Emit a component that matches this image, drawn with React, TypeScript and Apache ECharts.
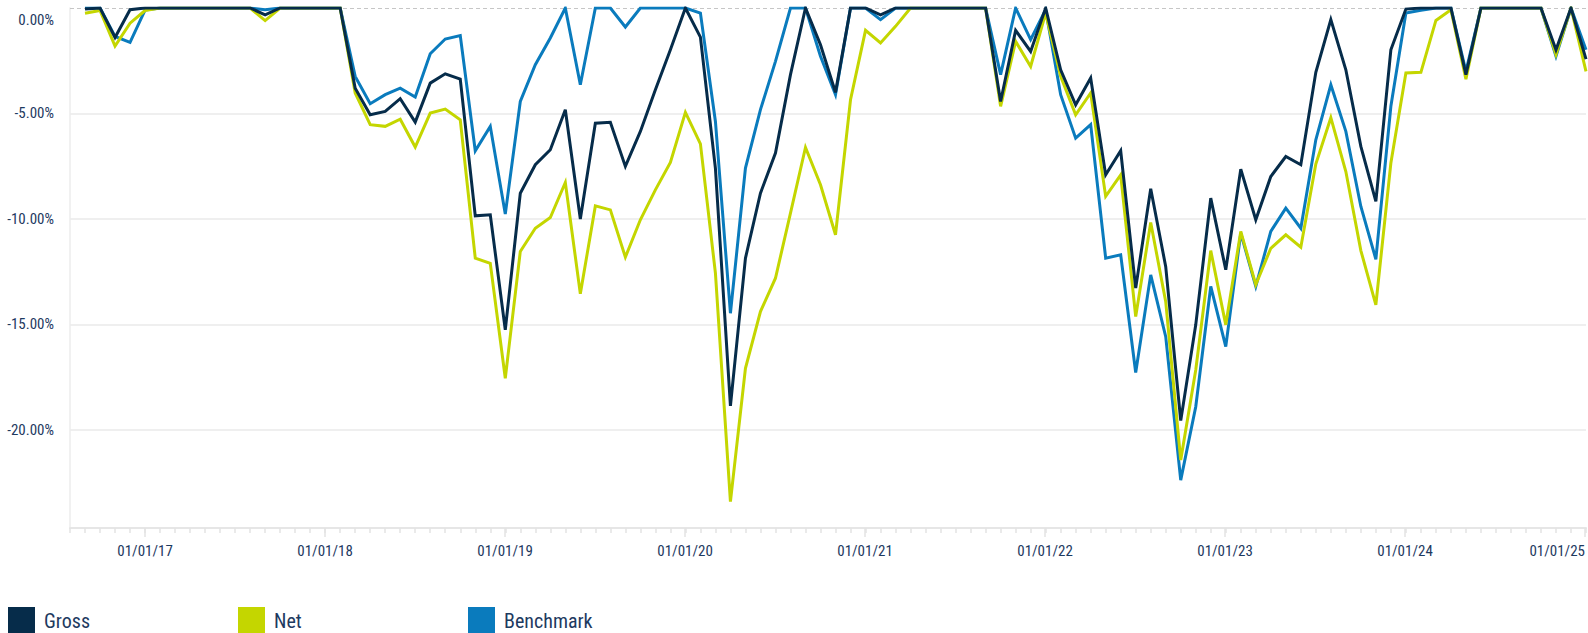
import React, { useEffect, useRef } from "react";
import * as echarts from "echarts";

// Month offset (relative to 01/01/17) of the first monthly observation
const FIRST_MONTH_OFFSET = -4;

const gross = [
  -0.05, 0, -1.4, -0.08,
  0, 0, 0, 0, 0, 0, 0, 0, -0.32, 0, 0, 0,
  0, 0, -3.8, -5.06, -4.9, -4.3, -5.41, -3.56, -3.12, -3.37, -9.85, -9.8,
  -15.26, -8.78, -7.43, -6.72, -4.82, -10.0, -5.46, -5.42, -7.51, -5.85, -3.87, -1.98,
  0, -1.38, -7.6, -18.86, -11.86, -8.78, -6.88, -3.16, 0, -1.74, -4.0, 0,
  0, -0.32, 0, 0, 0, 0, 0, 0, 0, -4.43, -1.06, -2.06,
  0, -2.93, -4.59, -3.32, -7.91, -6.77, -13.28, -8.57, -12.26, -19.56, -15.02, -9.01,
  -12.41, -7.64, -10.04, -7.99, -7.04, -7.43, -3.05, -0.55, -2.93, -6.56, -9.17, -1.98,
  -0.05, 0, 0, 0, -3.16, 0, 0, 0, 0, 0, -1.98, 0,
  -2.42,
];

const net = [
  -0.25, -0.12, -1.8, -0.72,
  -0.12, 0, 0, 0, 0, 0, 0, 0, -0.6, 0, 0, 0,
  0, 0, -4.03, -5.53, -5.61, -5.27, -6.59, -4.98, -4.79, -5.3, -11.86, -12.1,
  -17.55, -11.54, -10.44, -9.93, -8.27, -13.55, -9.38, -9.57, -11.81, -10.04, -8.62, -7.32,
  -4.95, -6.44, -12.57, -23.4, -17.08, -14.39, -12.81, -9.72, -6.61, -8.38, -10.75, -4.35,
  -1.06, -1.66, -0.87, 0, 0, 0, 0, 0, 0, -4.66, -1.58, -2.77,
  -0.24, -3.24, -5.06, -4.03, -8.93, -7.91, -14.63, -10.17, -13.92, -21.43, -17.16, -11.5,
  -15.02, -10.59, -13.12, -11.39, -10.75, -11.34, -7.4, -5.2, -7.75, -11.5, -14.07, -7.35,
  -3.08, -3.05, -0.59, -0.08, -3.37, 0, 0, 0, 0, 0, -2.21, 0,
  -3.0,
];

const benchmark = [
  0, 0, -1.35, -1.63,
  -0.1, 0, 0, 0, 0, 0, 0, 0, -0.08, 0, 0, 0,
  0, 0, -3.24, -4.54, -4.11, -3.8, -4.22, -2.17, -1.47, -1.31, -6.77, -5.61,
  -9.77, -4.43, -2.69, -1.42, 0, -3.64, 0, 0, -0.9, 0, 0, 0,
  0, -0.24, -5.38, -14.47, -7.59, -4.82, -2.53, 0, 0, -2.29, -4.11, 0,
  0, -0.55, 0, 0, 0, 0, 0, 0, 0, -3.16, 0, -1.5,
  -0.08, -4.11, -6.17, -5.53, -11.86, -11.7, -17.28, -12.65, -15.58, -22.38, -18.9, -13.2,
  -16.05, -10.67, -13.2, -10.59, -9.49, -10.44, -6.25, -3.64, -5.85, -9.41, -11.91, -4.66,
  -0.24, -0.11, 0, 0, -3.0, 0, 0, 0, 0, 0, -2.29, 0,
  -1.98,
];

const yearLabels = [
  "01/01/17", "01/01/18", "01/01/19", "01/01/20", "01/01/21",
  "01/01/22", "01/01/23", "01/01/24", "01/01/25",
];

const seriesNames = ["Gross", "Net", "Benchmark"];
const seriesColors = ["#062c4a", "#c4d600", "#0a7bbd"];

const AXIS_MIN_MONTH = -5;
const AXIS_MAX_MONTH = 96;
const Y_MIN = -24.65;

const FONT =
  "'Liberation Sans Narrow', 'Roboto Condensed', 'DejaVu Sans Condensed', Roboto, sans-serif";
const TEXT = "#1e3a5f";

const W = 1588;
const H = 633;
const GRID_LEFT = 70;
const GRID_RIGHT = 2;
const GRID_TOP = 8;
const GRID_HEIGHT = 520;
const LEGEND_LEFTS = [8, 238, 468];

function toPoints(vals: number[]) {
  return vals.map((v, k) => [FIRST_MONTH_OFFSET + k, v]);
}

export default function App() {
  const ref = useRef<HTMLDivElement>(null);

  useEffect(() => {
    if (!ref.current) return;
    const chart = echarts.init(ref.current, undefined, { renderer: "svg" });
    const monthPx = (W - GRID_LEFT - GRID_RIGHT) / (AXIS_MAX_MONTH - AXIS_MIN_MONTH);
    const grid1Left = GRID_LEFT + (0 - AXIS_MIN_MONTH) * monthPx;

    const valuesByName: Record<string, number[]> = {
      Gross: gross,
      Net: net,
      Benchmark: benchmark,
    };
    const drawOrder = ["Benchmark", "Net", "Gross"];

    const series: any[] = drawOrder.map((name, idx) => {
      const color = seriesColors[seriesNames.indexOf(name)];
      const s: any = {
        name,
        type: "line",
        xAxisIndex: 0,
        yAxisIndex: 0,
        data: toPoints(valuesByName[name]),
        showSymbol: false,
        symbol: "none",
        color,
        itemStyle: { color },
        lineStyle: { color, width: 3, join: "miter", miterLimit: 10 },
        emphasis: { disabled: true },
        silent: true,
        z: 2 + idx,
      };
      if (idx === 0) {
        s.markLine = {
          silent: true,
          symbol: "none",
          z: 1,
          animation: false,
          label: { show: false },
          lineStyle: { type: [4, 3], color: "#c6c6c6", width: 1 },
          data: [{ yAxis: 0 }],
        };
      }
      return s;
    });

    const legends = seriesNames.map((name, i) => ({
      show: true,
      data: [name],
      left: LEGEND_LEFTS[i],
      top: 607,
      padding: 0,
      itemWidth: 27,
      itemHeight: 27,
      icon: "rect",
      selectedMode: false,
      itemStyle: { borderWidth: 0 },
      textStyle: {
        fontSize: 20,
        color: TEXT,
        fontFamily: FONT,
        padding: [0, 0, 0, 4],
      },
    }));

    chart.setOption({
      animation: false,
      textStyle: { fontFamily: FONT },
      grid: [
        { left: GRID_LEFT, right: GRID_RIGHT, top: GRID_TOP, height: GRID_HEIGHT },
        { left: grid1Left, right: GRID_RIGHT, top: GRID_TOP, height: GRID_HEIGHT },
      ],
      xAxis: [
        {
          type: "value",
          gridIndex: 0,
          position: "bottom",
          min: AXIS_MIN_MONTH,
          max: AXIS_MAX_MONTH,
          interval: 1,
          axisLine: { show: true, onZero: false, lineStyle: { color: "#e6e6e6", width: 2 } },
          axisTick: { show: true, length: 5, lineStyle: { color: "#e3e3e3", width: 1.5 } },
          axisLabel: { show: false },
          splitLine: { show: false },
        },
        {
          type: "value",
          gridIndex: 1,
          position: "bottom",
          min: 0,
          max: AXIS_MAX_MONTH,
          interval: 12,
          axisLine: { show: false, onZero: false },
          axisTick: { show: true, length: 9, lineStyle: { color: "#e3e3e3", width: 1.5 } },
          axisLabel: {
            show: true,
            margin: 15,
            fontSize: 15,
            color: TEXT,
            fontFamily: FONT,
            alignMaxLabel: "right",
            formatter: (v: number) => yearLabels[Math.round(v / 12)] ?? "",
          },
          splitLine: { show: false },
        },
      ],
      yAxis: [
        {
          type: "value",
          gridIndex: 0,
          position: "left",
          min: Y_MIN,
          max: 0,
          splitNumber: 5,
          axisLine: { show: true, onZero: false, lineStyle: { color: "#ececec", width: 1.5 } },
          axisTick: { show: false },
          splitLine: {
            show: true,
            showMaxLine: false,
            showMinLine: false,
            lineStyle: { color: "#efefef", width: 2 },
          },
          axisLabel: {
            show: true,
            showMinLabel: false,
            margin: 16,
            fontSize: 15,
            color: TEXT,
            fontFamily: FONT,
            formatter: (v: number) =>
              v === 0 ? "{z|0.00%}" : v.toFixed(2) + "%",
            rich: {
              z: {
                padding: [24, 0, 0, 0],
                fontSize: 15,
                color: TEXT,
                fontFamily: FONT,
              },
            },
          },
        },
        {
          type: "value",
          gridIndex: 1,
          min: Y_MIN,
          max: 0,
          show: false,
          axisLine: { show: false, onZero: false },
        },
      ],
      legend: legends,
      series,
    });

    return () => {
      chart.dispose();
    };
  }, []);

  return (
    <div
      ref={ref}
      style={{ position: "fixed", left: 0, top: 0, width: W, height: H, background: "#fff" }}
    />
  );
}
